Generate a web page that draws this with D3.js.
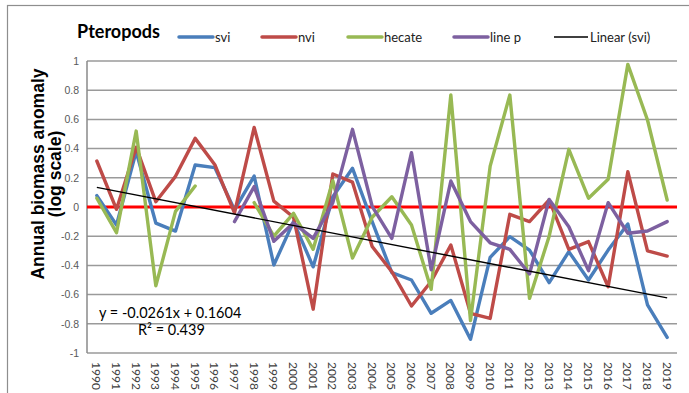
<!DOCTYPE html>
<html>
<head>
<meta charset="utf-8">
<script src="https://cdn.jsdelivr.net/npm/d3@7/dist/d3.min.js"></script>
<style>
  html, body { margin: 0; padding: 0; background: #fff; }
  svg { display: block; }
</style>
</head>
<body>
<svg id="chart" width="689" height="393"></svg>
<script>
// Annual biomass anomaly (log scale) of pteropods, 1990–2019
const years = d3.range(1990, 2020);

const svi = [0.078, -0.123, 0.38, -0.11, -0.165, 0.288, 0.27, -0.02, 0.212, -0.397,
             -0.1, -0.41, 0.07, 0.265, -0.1, -0.45, -0.5, -0.728, -0.64, -0.906,
             -0.345, -0.203, -0.295, -0.518, -0.306, -0.5, -0.295, -0.116, -0.671, -0.893];

const nvi = [0.315, -0.016, 0.41, 0.036, 0.21, 0.47, 0.29, -0.04, 0.545, 0.04,
             -0.07, -0.70, 0.226, 0.17, -0.27, -0.443, -0.678, -0.51, -0.26, -0.728,
             -0.763, -0.05, -0.1, 0.048, -0.29, -0.237, -0.546, 0.242, -0.30, -0.336];

const hecate = [0.06, -0.176, 0.52, -0.54, -0.03, 0.144, null, null, 0.03, -0.2,
                -0.043, -0.29, 0.18, -0.35, -0.07, 0.07, -0.123, -0.564, 0.767, -0.778,
                0.28, 0.767, -0.626, -0.2, 0.395, 0.06, 0.19, 0.977, 0.596, 0.048];

const lineP = [null, null, null, null, null, null, null, -0.1, 0.14, -0.235,
               -0.11, -0.215, 0.03, 0.532, 0.005, -0.215, 0.372, -0.43, 0.178, -0.1,
               -0.245, -0.29, -0.459, 0.052, -0.135, -0.436, 0.03, -0.18, -0.164, -0.1];

// Linear trend of svi against the year index (1..30)
const trendSlope = -0.0261;
const trendIntercept = 0.1604;
const trendR2 = 0.439;

const yTicks = [1, 0.8, 0.6, 0.4, 0.2, 0, -0.2, -0.4, -0.6, -0.8, -1];

const seriesNames = ["svi", "nvi", "hecate", "line p"];
const seriesValues = [svi, nvi, hecate, lineP];
const seriesColors = ["#4a7ebb", "#be4b48", "#98b954", "#7d60a0"];

const svg = d3.select("#chart");
const W = 689, H = 393;

svg.append("rect").attr("width", W).attr("height", H).attr("fill", "#fff");

// chart frame
svg.append("rect")
  .attr("x", 7.5).attr("y", 5.5)
  .attr("width", 700).attr("height", 420)
  .attr("fill", "none").attr("stroke", "#8e8e8e").attr("stroke-width", 1.2);

const plot = { left: 87, right: 677, top: 61, bottom: 353 };

const x = d3.scaleBand().domain(years).range([plot.left, plot.right]).padding(0);
const y = d3.scaleLinear().domain([-1, 1]).range([plot.bottom, plot.top]);
const cx = yr => x(yr) + x.bandwidth() / 2;

// horizontal gridlines
svg.append("g").selectAll("line")
  .data(yTicks.filter(t => t !== 0))
  .join("line")
  .attr("x1", plot.left).attr("x2", plot.right)
  .attr("y1", d => y(d)).attr("y2", d => y(d))
  .attr("stroke", "#9a9a9a").attr("stroke-width", 1.5);

// vertical axis line
svg.append("line")
  .attr("x1", plot.left).attr("x2", plot.left)
  .attr("y1", y(1)).attr("y2", y(-1))
  .attr("stroke", "#8a8a8a").attr("stroke-width", 1.5);

// y tick labels
const yAxis = d3.axisLeft(y).tickValues(yTicks).tickSize(0).tickPadding(8)
  .tickFormat(d => String(d));
const gy = svg.append("g").attr("transform", `translate(${plot.left},0)`).call(yAxis);
gy.select(".domain").remove();
gy.selectAll("text")
  .attr("font-family", "'Liberation Sans', Arial, sans-serif")
  .attr("font-size", 10.5).attr("fill", "#595959");

// x tick labels, rotated to read downward
const xAxis = d3.axisBottom(x).tickSize(0).tickPadding(0).tickFormat(d => String(d));
const gx = svg.append("g").attr("transform", `translate(0,${plot.bottom})`).call(xAxis);
gx.select(".domain").remove();
gx.selectAll("text")
  .attr("font-family", "Lato, 'Open Sans', sans-serif")
  .attr("font-size", 12).attr("fill", "#404040")
  .attr("text-anchor", "start")
  .attr("dy", null).attr("y", 0)
  .attr("transform", "translate(-4.5,9) rotate(90)");

// zero reference line
svg.append("line")
  .attr("x1", plot.left).attr("x2", plot.right)
  .attr("y1", y(0)).attr("y2", y(0))
  .attr("stroke", "#ff0000").attr("stroke-width", 3);

// data series
const line = d3.line()
  .defined(d => d.v !== null)
  .x(d => cx(d.year))
  .y(d => y(d.v));

seriesValues.forEach((vals, i) => {
  svg.append("path")
    .datum(years.map((yr, j) => ({ year: yr, v: vals[j] })))
    .attr("d", line)
    .attr("fill", "none")
    .attr("stroke", seriesColors[i])
    .attr("stroke-width", 3.4)
    .attr("stroke-linejoin", "round")
    .attr("stroke-linecap", "round");
});

// svi linear trend
const trend = years.map((yr, j) => ({ year: yr, v: trendIntercept + trendSlope * (j + 1) }));
svg.append("path")
  .datum([trend[0], trend[trend.length - 1]])
  .attr("d", line)
  .attr("fill", "none")
  .attr("stroke", "#000").attr("stroke-width", 1.4);

// trend equation
const eqFont = "Lato, 'Open Sans', sans-serif";
svg.append("text")
  .attr("x", 99).attr("y", 318)
  .attr("font-family", eqFont).attr("font-size", 14.5).attr("fill", "#000")
  .text(`y = ${trendSlope.toFixed(4)}x + ${trendIntercept.toFixed(4)}`);
svg.append("text")
  .attr("x", 138).attr("y", 335)
  .attr("font-family", eqFont).attr("font-size", 14.5).attr("fill", "#000")
  .text(`R² = ${trendR2.toFixed(3)}`);

// y axis title
const yTitle = svg.append("text")
  .attr("transform", "translate(0,174) rotate(-90)")
  .attr("text-anchor", "middle")
  .attr("font-family", "'Liberation Sans', Arial, sans-serif")
  .attr("font-weight", "bold").attr("font-size", 17.5).attr("fill", "#000");
yTitle.append("tspan").attr("x", 0).attr("y", 44).text("Annual biomass anomaly");
yTitle.append("tspan").attr("x", 0).attr("y", 61).text("(log scale)");

// title
svg.append("text")
  .attr("x", 77).attr("y", 38)
  .attr("font-family", "Lato, 'Open Sans', sans-serif")
  .attr("font-weight", "bold").attr("font-size", 18).attr("fill", "#000")
  .text("Pteropods");

// legend
const legendItems = [
  { name: seriesNames[0], color: seriesColors[0], x: 179, w: 3.5 },
  { name: seriesNames[1], color: seriesColors[1], x: 262, w: 3.5 },
  { name: seriesNames[2], color: seriesColors[2], x: 348, w: 3.5 },
  { name: seriesNames[3], color: seriesColors[3], x: 454, w: 3.5 },
  { name: "Linear (svi)", color: "#000", x: 554, w: 1.4 }
];
const lg = svg.append("g");
legendItems.forEach(it => {
  lg.append("line")
    .attr("x1", it.x).attr("x2", it.x + 34)
    .attr("y1", 37).attr("y2", 37)
    .attr("stroke", it.color).attr("stroke-width", it.w)
    .attr("stroke-linecap", it.w > 2 ? "round" : "butt");
  lg.append("text")
    .attr("x", it.x + 36).attr("y", 41.5)
    .attr("font-family", "Lato, 'Open Sans', sans-serif")
    .attr("font-size", 13).attr("fill", "#222")
    .text(it.name);
});
</script>
</body>
</html>
